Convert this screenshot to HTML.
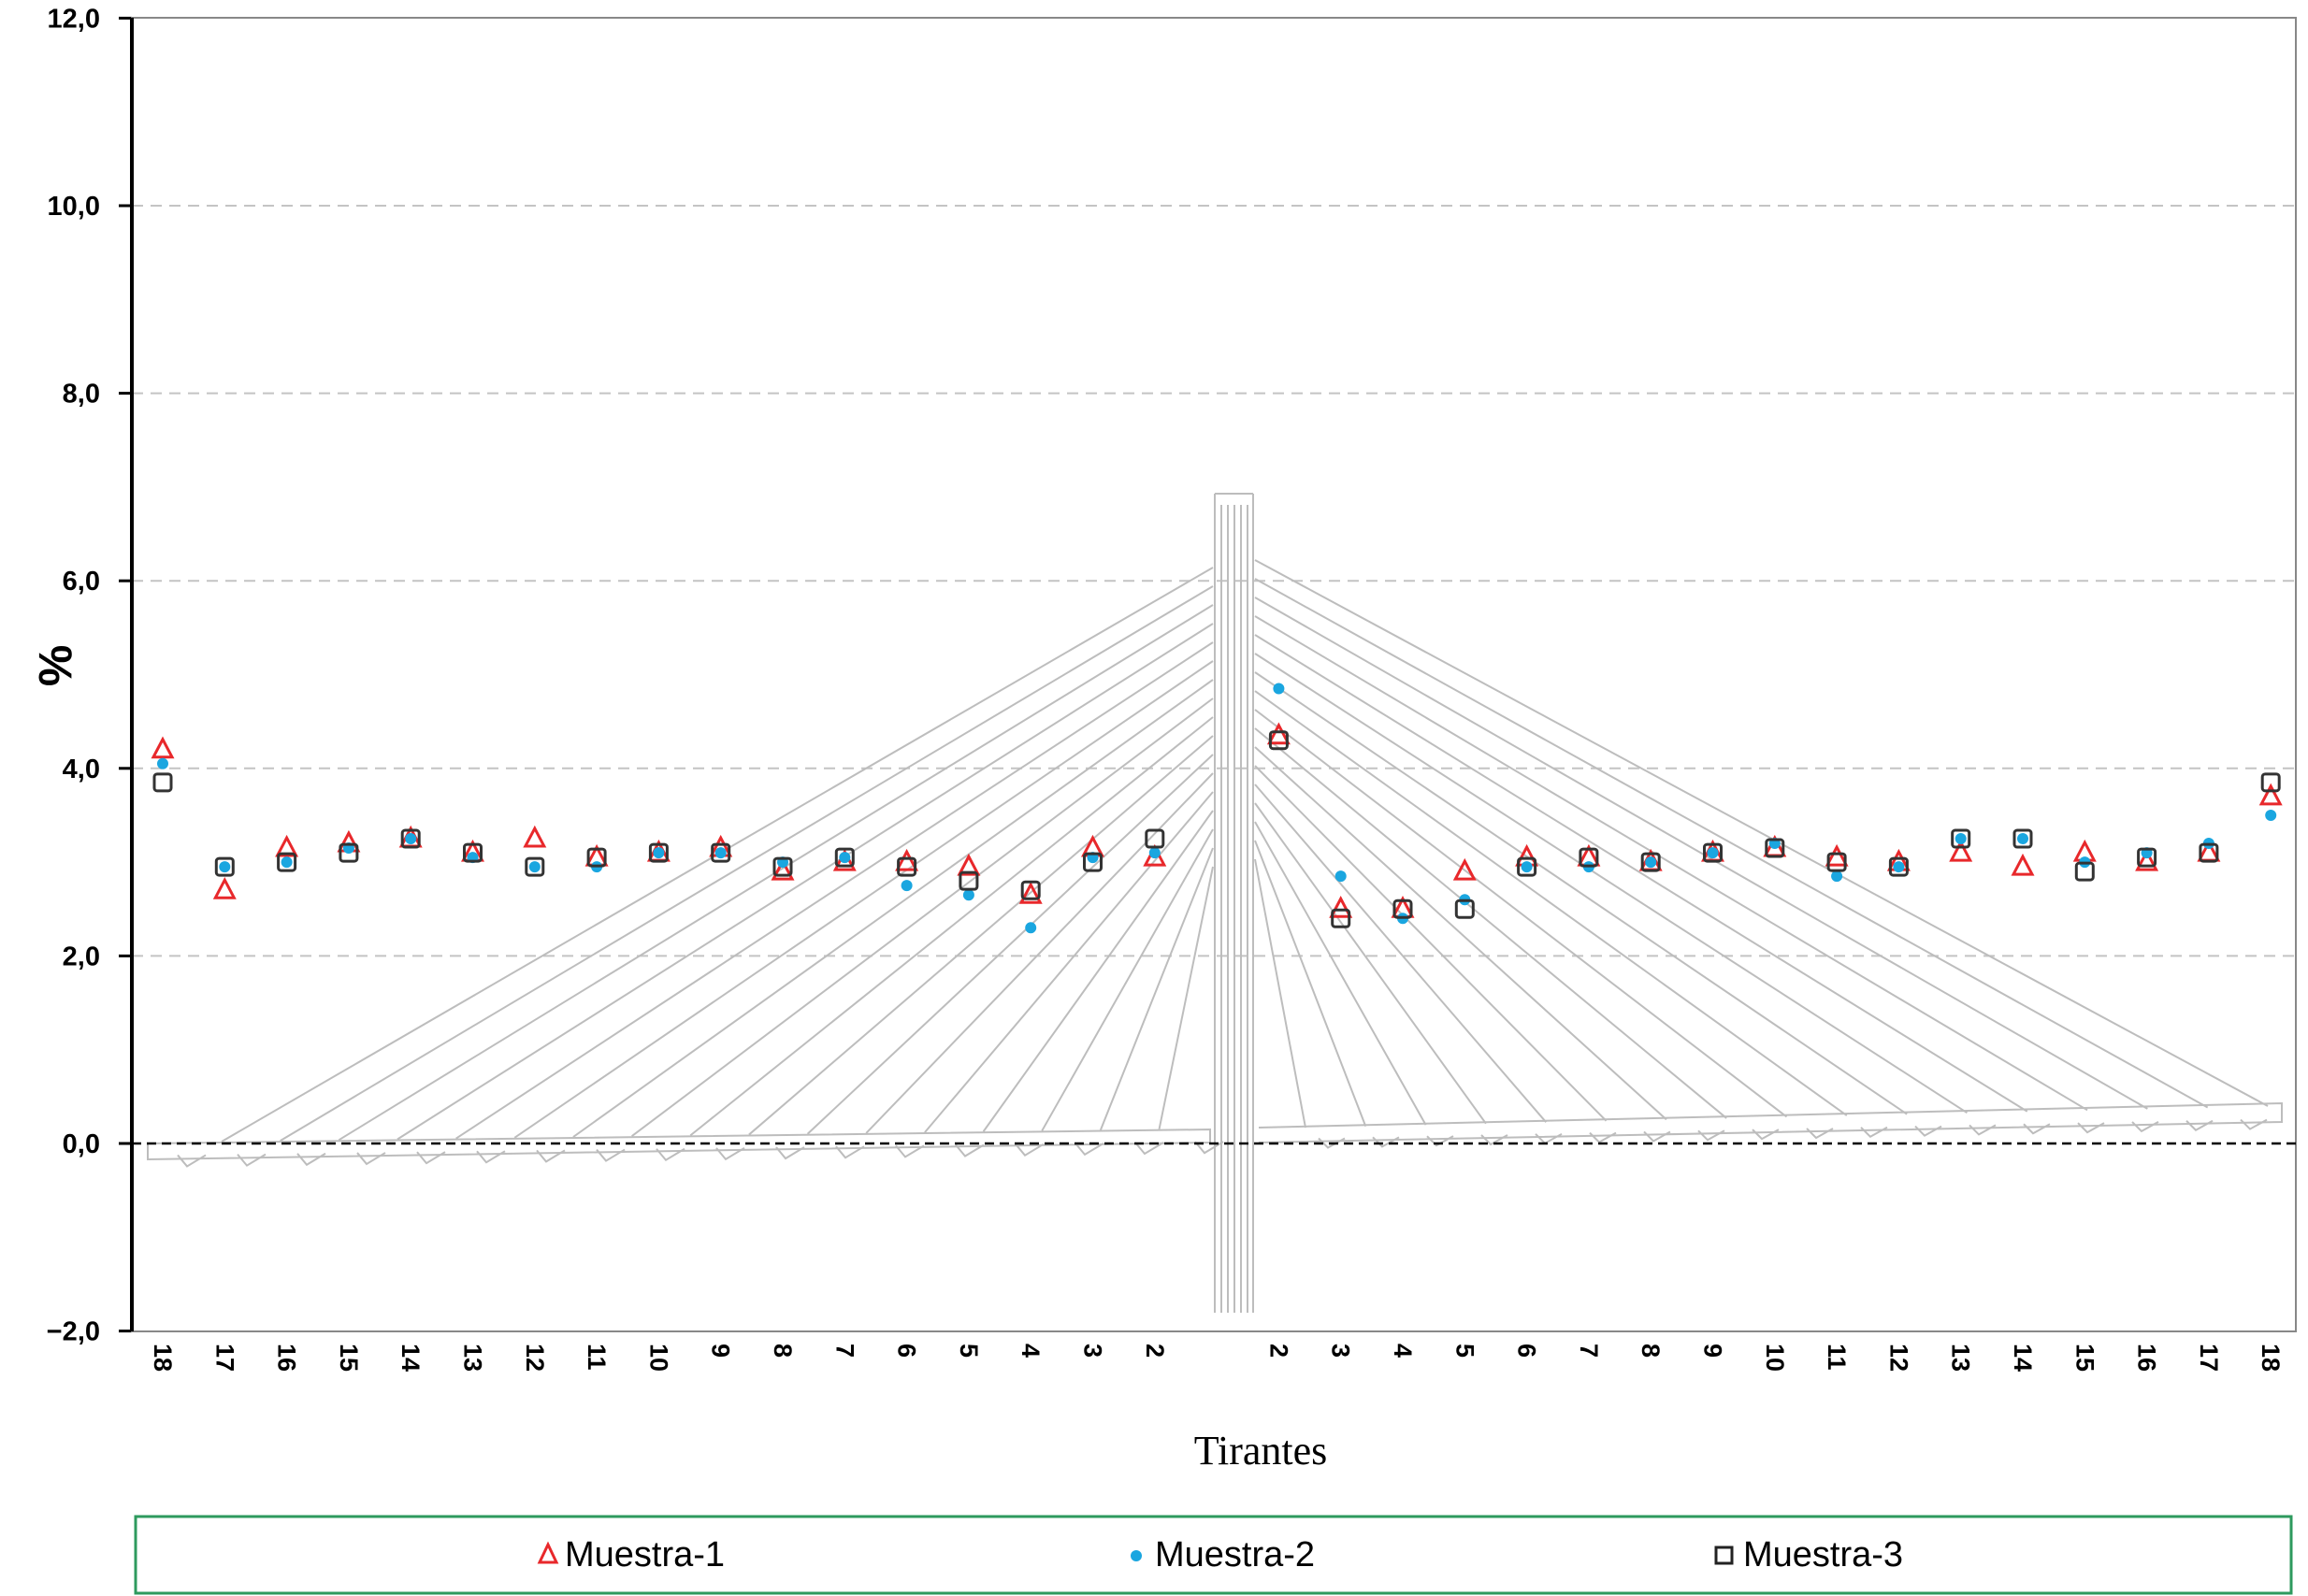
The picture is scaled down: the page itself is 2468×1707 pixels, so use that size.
<!DOCTYPE html>
<html><head><meta charset="utf-8"><style>
html,body{margin:0;padding:0;background:#fff;}
svg{display:block;}
</style></head><body>
<svg id="chart" width="2468" height="1707" viewBox="0 0 2468 1707" xmlns="http://www.w3.org/2000/svg" font-family="Liberation Sans, sans-serif">
<g id="grid"></g>
<g id="bridge" stroke="#bdbdbd" stroke-width="2" fill="none"></g>
<g id="axes"></g>
<g id="marks"></g>
<text x="0" y="0" transform="translate(42,712) rotate(90)" text-anchor="middle" font-size="50" font-weight="bold">%</text>
<text x="1348" y="1566" text-anchor="middle" font-size="44" font-family="Liberation Serif, serif">Tirantes</text>
<g>
<rect x="145" y="1622" width="2305" height="82" fill="#fff" stroke="#2e9a5e" stroke-width="3"/>
<g>
<polygon points="586,1652 577,1671 595,1671" fill="none" stroke="#e8282b" stroke-width="3"/>
<text x="604" y="1675" font-size="38">Muestra-1</text></g>
<g>
<circle cx="1215" cy="1664" r="6" fill="#1aa6e0"/>
<text x="1235" y="1675" font-size="38">Muestra-2</text></g>
<g>
<rect x="1835" y="1655" width="17" height="17" fill="none" stroke="#222" stroke-width="3"/>
<text x="1864" y="1675" font-size="38">Muestra-3</text></g>
</g>
</svg>
<script>
const categories = ["18","17","16","15","14","13","12","11","10","9","8","7","6","5","4","3","2","","2","3","4","5","6","7","8","9","10","11","12","13","14","15","16","17","18"];
const muestra1 = [4.2,2.7,3.15,3.2,3.25,3.1,3.25,3.05,3.1,3.15,2.9,3.0,3.0,2.95,2.65,3.15,3.05,null,4.35,2.5,2.5,2.9,3.05,3.05,3.0,3.1,3.15,3.05,3.0,3.1,2.95,3.1,3.0,3.1,3.7];
const muestra2 = [4.05,2.95,3.0,3.15,3.25,3.05,2.95,2.95,3.1,3.1,3.0,3.05,2.75,2.65,2.3,3.05,3.1,null,4.85,2.85,2.4,2.6,2.95,2.95,3.0,3.1,3.2,2.85,2.95,3.25,3.25,3.0,3.1,3.2,3.5];
const muestra3 = [3.85,2.95,3.0,3.1,3.25,3.1,2.95,3.05,3.1,3.1,2.95,3.05,2.95,2.8,2.7,3.0,3.25,null,4.3,2.4,2.5,2.5,2.95,3.05,3.0,3.1,3.15,3.0,2.95,3.25,3.25,2.9,3.05,3.1,3.85];
const yTicks = [12,10,8,6,4,2,0,-2];
const yTickLabels = ["12,0","10,0","8,0","6,0","4,0","2,0","0,0","\u22122,0"];

const NS="http://www.w3.org/2000/svg";
const L=141,R=2455,T=19,B=1424;
function yS(v){return 1223 - v*100.3;}
function xS(i){return 174 + i*66.3;}
function mk(tag,attrs,parent){const e=document.createElementNS(NS,tag);for(const k in attrs)e.setAttribute(k,attrs[k]);parent.appendChild(e);return e;}
const grid=document.getElementById('grid'),axes=document.getElementById('axes'),marks=document.getElementById('marks'),bridge=document.getElementById('bridge');

yTicks.forEach((v,i)=>{
  const y=yS(v);
  if(v>-2 && v<12 && v!==0){const g=mk('line',{x1:L,x2:R,y1:y,y2:y,stroke:'#c4c4c4','stroke-width':2,'stroke-dasharray':'12 8'},grid);
    
    }
  const t=mk('line',{x1:L-14,x2:L,y1:y,y2:y,stroke:'#000','stroke-width':3},axes);
  
  
  const lb=mk('text',{x:107,y:y+10,'text-anchor':'end','font-size':29,'font-weight':'bold'},axes);
  lb.textContent=yTickLabels[i];
  
  
});
const fr=mk('rect',{x:L,y:T,width:R-L,height:B-T,fill:'none',stroke:'#888','stroke-width':2},axes);


const ya=mk('line',{x1:L,x2:L,y1:T,y2:B,stroke:'#000','stroke-width':4},axes);


const zl=mk('line',{x1:L,x2:R,y1:yS(0),y2:yS(0),stroke:'#000','stroke-width':2.5,'stroke-dasharray':'10 6'},axes);



categories.forEach((c,i)=>{
  if(!c)return;
  const x=xS(i);
  const t=mk('text',{x:0,y:0,transform:`translate(${x-9},1437) rotate(90)`,'font-size':27,'font-weight':'bold'},axes);
  t.textContent=c;
  
  
});

(function(){
  mk('polyline',{points:`158,1223 1294,1208 1294,1222 158,1240 158,1223`},bridge);
  mk('polyline',{points:`1346,1206 2440,1180 2440,1200 1346,1222`},bridge);
  for(const x of [1299,1306,1313,1320,1327,1334,1340]) mk('line',{x1:x,x2:x,y1:(x==1299||x==1340)?528:540,y2:1404},bridge);
  mk('line',{x1:1299,x2:1340,y1:528,y2:528},bridge);
  const n=17;
  for(let k=0;k<n;k++){
    const ay=607+k*20, dx=237+k*(1260-237)/(n-1)*0.98;
    const dy=1222 - (dx-158)*(15/1142);
    mk('line',{x1:1297,y1:ay,x2:dx,y2:dy},bridge);
    const rx=2425-k*(2425-1375)/(n-1)*0.98, ry=1183+ (2425-rx)*(24/1073);
    mk('line',{x1:1342,y1:ay-8,x2:rx,y2:ry},bridge);
  }
  for(let k=0;k<18;k++){
    const x=200+k*64; const y=1236-(x-158)*(15/1142);
    mk('polyline',{points:`${x-10},${y} ${x},${y+12} ${x+20},${y}`},bridge);
    const x2=1420+k*58; const y2=1219-(x2-1346)*(22/1088);
    mk('polyline',{points:`${x2-10},${y2} ${x2},${y2+10} ${x2+18},${y2}`},bridge);
  }
})();

categories.forEach((c,i)=>{
  const x=xS(i);
  if(muestra1[i]!=null){const y=yS(muestra1[i]);
    const p=mk('polygon',{points:`${x},${y-11} ${x-10},${y+8} ${x+10},${y+8}`,fill:'none',stroke:'#e8282b','stroke-width':3},marks);
    
    }
  if(muestra2[i]!=null){const y=yS(muestra2[i]);
    const p=mk('circle',{cx:x,cy:y,r:6,fill:'#1aa6e0'},marks);
    
    }
  if(muestra3[i]!=null){const y=yS(muestra3[i]);
    const p=mk('rect',{x:x-9,y:y-9,width:18,height:18,rx:3,fill:'none',stroke:'#333','stroke-width':3},marks);
    
    }
});
</script>
</body></html>
